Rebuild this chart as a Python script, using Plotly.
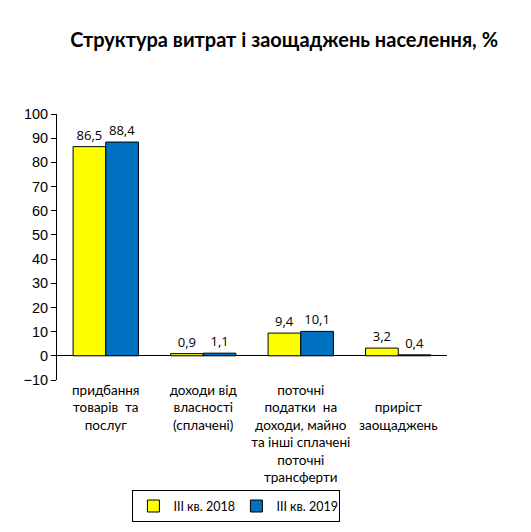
import plotly.graph_objects as go

# Categories and values (per cent)
categories = ['придбання<br>товарів  та<br>послуг',
              'доходи від<br>власності<br>(сплачені)',
              'поточні<br>податки  на<br>доходи, майно<br>та інші сплачені<br>поточні<br>трансферти',
              ' <br>приріст<br>заощаджень']
q3_2018 = [86.5, 0.9, 9.4, 3.2]
q3_2019 = [88.4, 1.1, 10.1, 0.4]
series_names = ['III кв. 2018', 'III кв. 2019']
y_ticks = [-10, 0, 10, 20, 30, 40, 50, 60, 70, 80, 90, 100]

fig = go.Figure()

fig.add_trace(go.Bar(x=categories, y=q3_2018, name=series_names[0],
                     marker=dict(color='#FFFF00', line=dict(color='black', width=1)),
                     texttemplate='%{y:.1f}', textposition='outside',
                     textfont=dict(size=13, color='black'), cliponaxis=False))
fig.add_trace(go.Bar(x=categories, y=q3_2019, name=series_names[1],
                     marker=dict(color='#0070C0', line=dict(color='black', width=1)),
                     texttemplate='%{y:.1f}', textposition='outside',
                     textfont=dict(size=13, color='black'), cliponaxis=False))

fig.update_layout(
    width=531, height=532,
    paper_bgcolor='white', plot_bgcolor='white',
    separators=', ',
    font=dict(family='Open Sans, Liberation Sans, sans-serif', size=12, color='black'),
    title=dict(text='<b>Структура витрат і заощаджень населення, %</b>',
               x=0.52, xanchor='center', y=0.94, yanchor='middle',
               font=dict(size=20, family='Lato, Open Sans, sans-serif', color='black')),
    barmode='group', bargap=0.33, bargroupgap=0,
    margin=dict(l=49, r=92, t=106, b=160),
    showlegend=True,
    legend=dict(orientation='h', x=0.46, xanchor='center', y=-0.415, yanchor='top',
                bordercolor='black', borderwidth=1,
                font=dict(size=12.5, family='Lato, Open Sans, sans-serif'),
                itemwidth=30, entrywidth=58, traceorder='normal'),
)

fig.update_xaxes(showline=False, ticks='', showgrid=False,
                 tickfont=dict(size=13.5, family='Lato, Open Sans, sans-serif'))
fig.update_yaxes(range=[-10, 100], tickvals=y_ticks, showgrid=False,
                 showline=True, linecolor='black', linewidth=1,
                 ticks='outside', ticklen=5, tickcolor='black',
                 zeroline=True, zerolinecolor='black', zerolinewidth=1,
                 tickfont=dict(size=14.5, family='Liberation Sans, Arial, sans-serif'))

fig.write_html("out.html")
